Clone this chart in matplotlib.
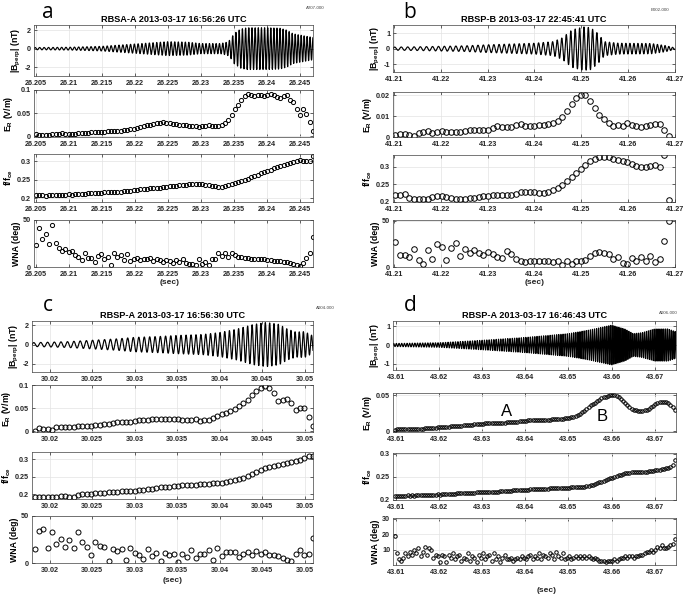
import numpy as np
import matplotlib.pyplot as plt
from matplotlib.ticker import FormatStrFormatter

plt.rcParams['font.family'] = ['Liberation Sans', 'DejaVu Sans']
plt.rcParams['mathtext.fontset'] = 'custom'
plt.rcParams['mathtext.bf'] = 'Liberation Sans:bold'
plt.rcParams['mathtext.rm'] = 'Liberation Sans:bold'
plt.rcParams['mathtext.default'] = 'bf'

# ---------------- panel a ----------------
a_title = 'RBSA-A 2013-03-17 16:56:26 UTC'
a_tag = 'A207-000'
a_xlim = (26.2047, 26.247)
a_xticks = [26.205, 26.21, 26.215, 26.22, 26.225, 26.23, 26.235, 26.24, 26.245]
a_env_t = [26.2047, 26.21, 26.215, 26.218, 26.22, 26.222, 26.225, 26.228, 26.23, 26.233,
           26.234, 26.2345, 26.235, 26.236, 26.237, 26.24, 26.242, 26.243, 26.244, 26.2455, 26.247]
a_env_b = [0.12, 0.15, 0.25, 0.4, 0.5, 0.6, 0.75, 0.7, 0.55, 0.55,
           0.7, 1.0, 1.6, 2.1, 2.25, 2.25, 2.2, 2.0, 1.6, 1.4, 1.2]
a_freq = (1450, 2250)
a_span = (26.205, 26.247)
a_er = [0.004, 0.002, 0.002, 0.003, 0.003, 0.004, 0.004, 0.005, 0.006, 0.005,
        0.004, 0.004, 0.005, 0.006, 0.006, 0.007, 0.007, 0.008, 0.008, 0.008,
        0.009, 0.009, 0.010, 0.010, 0.011, 0.012, 0.012, 0.013, 0.014, 0.015,
        0.016, 0.017, 0.019, 0.021, 0.023, 0.025, 0.027, 0.028, 0.029, 0.030,
        0.029, 0.028, 0.027, 0.026, 0.025, 0.024, 0.023, 0.022, 0.022, 0.021,
        0.020, 0.021, 0.022, 0.023, 0.022, 0.021, 0.022, 0.024, 0.028, 0.035,
        0.045, 0.058, 0.068, 0.078, 0.086, 0.091, 0.089, 0.088, 0.090, 0.089,
        0.088, 0.090, 0.091, 0.089, 0.085, 0.082, 0.088, 0.089, 0.078, 0.074,
        0.058, 0.046, 0.058, 0.048, 0.030, 0.012]
a_ffce = [0.209, 0.210, 0.208, 0.207, 0.208, 0.209, 0.210, 0.209, 0.208, 0.210,
          0.211, 0.210, 0.211, 0.212, 0.213, 0.213, 0.214, 0.214, 0.214, 0.215,
          0.215, 0.216, 0.216, 0.217, 0.217, 0.218, 0.218, 0.219, 0.220, 0.221,
          0.222, 0.223, 0.224, 0.225, 0.226, 0.227, 0.228, 0.229, 0.229, 0.230,
          0.231, 0.232, 0.233, 0.234, 0.235, 0.236, 0.237, 0.238, 0.238, 0.239,
          0.239, 0.238, 0.237, 0.236, 0.234, 0.232, 0.231, 0.231, 0.232, 0.235,
          0.238, 0.241, 0.244, 0.247, 0.250, 0.253, 0.257, 0.260, 0.264, 0.268,
          0.272, 0.275, 0.278, 0.281, 0.284, 0.287, 0.290, 0.293, 0.295, 0.297,
          0.300, 0.303, 0.302, 0.300, 0.301, 0.315]
a_wna = [23, 42, 30, 35, 24, 45, 26, 20, 17, 19,
         16, 17, 13, 11, 7, 15, 10, 10, 5, 12,
         14, 8, 11, 2, 15, 11, 13, 7, 14, 6,
         9, 10, 7, 9, 8, 10, 6, 8, 7, 5,
         7, 6, 4, 7, 5, 9, 4, 3, 3, 2,
         8, 3, 5, 2, 9, 8, 15, 12, 15, 11,
         15, 13, 11, 11, 10, 10, 9, 9, 8, 8,
         8, 7, 7, 6, 6, 6, 5, 5, 4, 3,
         2, 1, 4, 10, 15, 32]

# ---------------- panel b ----------------
b_title = 'RBSP-B 2013-03-17 22:45:41 UTC'
b_tag = 'B002-000'
b_xlim = (41.2097, 41.2701)
b_xticks = [41.21, 41.22, 41.23, 41.24, 41.25, 41.26, 41.27]
b_env_t = [41.2097, 41.215, 41.22, 41.225, 41.23, 41.235, 41.24, 41.244, 41.246, 41.248,
           41.2505, 41.252, 41.2535, 41.255, 41.258, 41.265, 41.268, 41.2701]
b_env_b = [0.1, 0.12, 0.15, 0.18, 0.25, 0.3, 0.35, 0.45, 0.7, 1.2,
           1.4, 1.35, 1.0, 0.45, 0.35, 0.33, 0.2, 0.05]
b_freq = (700, 1250)
b_span = (41.2102, 41.2688)
b_er = [0.0011, 0.0015, 0.0013, 0.0008, 0.0005, 0.0018, 0.0022, 0.0028, 0.0020, 0.0026,
        0.0029, 0.0022, 0.0025, 0.0024, 0.0026, 0.0031, 0.0033, 0.0033, 0.0034, 0.0035,
        0.0036, 0.0045, 0.0053, 0.0050, 0.0046, 0.0048, 0.0058, 0.0063, 0.0053, 0.0052,
        0.0055, 0.0057, 0.0060, 0.0063, 0.0067, 0.0078, 0.0097, 0.0125, 0.0158, 0.0185,
        0.0200, 0.0203, 0.0175, 0.0140, 0.0105, 0.0085, 0.0065, 0.0052, 0.0058, 0.0055,
        0.0066, 0.0058, 0.0052, 0.0050, 0.0053, 0.0056, 0.0062, 0.0064, 0.0035, 0.0006]
b_ffce = [0.219, 0.219, 0.222, 0.211, 0.208, 0.208, 0.208, 0.209, 0.214, 0.218,
          0.216, 0.213, 0.210, 0.209, 0.208, 0.208, 0.210, 0.212, 0.215, 0.217,
          0.218, 0.219, 0.219, 0.219, 0.220, 0.221, 0.224, 0.227, 0.228, 0.228,
          0.227, 0.226, 0.226, 0.228, 0.234, 0.241, 0.249, 0.259, 0.270, 0.282,
          0.294, 0.305, 0.315, 0.322, 0.327, 0.328, 0.326, 0.323, 0.320, 0.316,
          0.312, 0.307, 0.302, 0.298, 0.298, 0.301, 0.305, 0.300, 0.333, 0.205]
b_wna = [27, 13, 13, 11, 20, 8, 3, 18, 9, 25,
         22, 8, 21, 26, 12, 20, 15, 18, 15, 13,
         16, 14, 11, 10, 17, 14, 9, 7, 5, 7,
         6, 6, 7, 6, 5, 7, 2, 7, 3, 7,
         6, 8, 12, 15, 16, 15, 14, 9, 11, 4,
         3, 10, 6, 11, 6, 12, 5, 9, 28, 50]

# ---------------- panel c ----------------
c_title = 'RBSP-A 2013-03-17 16:56:30 UTC'
c_tag = 'A004-000'
c_xlim = (30.0179, 30.051)
c_xticks = [30.02, 30.025, 30.03, 30.035, 30.04, 30.045, 30.05]
c_env_t = [30.0179, 30.02, 30.022, 30.025, 30.028, 30.03, 30.033, 30.035, 30.038, 30.04,
           30.042, 30.044, 30.0455, 30.047, 30.048, 30.049, 30.05, 30.051]
c_env_b = [0.2, 0.25, 0.3, 0.45, 0.6, 0.75, 0.85, 0.95, 1.05, 1.25,
           1.6, 2.1, 2.3, 2.1, 1.6, 1.3, 1.35, 0.9]
c_freq = (1200, 2100)
c_span = (30.0182, 30.051)
c_er = [0.001, 0.007, 0.005, 0.005, 0.002, 0.008, 0.008, 0.009, 0.009, 0.009,
        0.010, 0.010, 0.011, 0.012, 0.013, 0.014, 0.015, 0.016, 0.018, 0.019,
        0.020, 0.020, 0.019, 0.021, 0.023, 0.024, 0.025, 0.026, 0.026, 0.027,
        0.027, 0.027, 0.027, 0.026, 0.025, 0.024, 0.023, 0.026, 0.022, 0.024,
        0.025, 0.028, 0.032, 0.036, 0.040, 0.043, 0.048, 0.054, 0.061, 0.068,
        0.078, 0.088, 0.093, 0.097, 0.093, 0.082, 0.066, 0.067, 0.069, 0.061,
        0.046, 0.051, 0.050, 0.030, 0.012]
c_ffce = [0.193, 0.191, 0.191, 0.192, 0.192, 0.193, 0.195, 0.195, 0.192, 0.191,
          0.196, 0.199, 0.200, 0.199, 0.203, 0.203, 0.204, 0.205, 0.205, 0.207,
          0.208, 0.208, 0.209, 0.210, 0.211, 0.213, 0.214, 0.215, 0.217, 0.219,
          0.220, 0.221, 0.223, 0.224, 0.225, 0.225, 0.226, 0.227, 0.228, 0.229,
          0.230, 0.231, 0.232, 0.233, 0.235, 0.237, 0.240, 0.243, 0.247, 0.252,
          0.258, 0.263, 0.268, 0.273, 0.277, 0.281, 0.284, 0.286, 0.289, 0.292,
          0.295, 0.297, 0.302, 0.308, 0.309]
c_wna = [15, 34, 36, 16, 33, 20, 26, 17, 25, 16,
         33, 22, 17, 9, 22, 18, 17, 2, 15, 13,
         15, 3, 16, 11, 9, 4, 15, 7, 11, 2,
         11, 8, 10, 1, 10, 6, 14, 5, 10, 10,
         14, 3, 16, 7, 12, 12, 12, 6, 10, 12,
         8, 13, 10, 12, 9, 8, 7, 5, 3, 2,
         10, 14, 8, 10, 27]

# ---------------- panel d ----------------
d_title = 'RBSP-A 2013-03-17 16:46:43 UTC'
d_tag = 'A006-000'
d_xlim = (43.6094, 43.6749)
d_xticks = [43.61, 43.62, 43.63, 43.64, 43.65, 43.66, 43.67]
d_env_t = [43.6094, 43.62, 43.63, 43.64, 43.645, 43.65, 43.655, 43.66, 43.663, 43.665,
           43.667, 43.67, 43.673, 43.6749]
d_env_b = [0.08, 0.12, 0.25, 0.4, 0.5, 0.6, 0.8, 1.05, 0.85, 0.6,
           0.65, 0.85, 0.85, 0.7]
d_freq = (1600, 2300)
d_span = (43.6098, 43.6746)
d_er = [0.0020, 0.0025, 0.0030, 0.0030, 0.0028, 0.0030, 0.0032, 0.0033, 0.0030, 0.0034,
        0.0035, 0.0036, 0.0035, 0.0038, 0.0040, 0.0041, 0.0043, 0.0045, 0.0048, 0.0050,
        0.0053, 0.0055, 0.0057, 0.0060, 0.0062, 0.0065, 0.0067, 0.0070, 0.0072, 0.0075,
        0.0078, 0.0080, 0.0083, 0.0086, 0.0088, 0.0090, 0.0093, 0.0096, 0.0099, 0.0102,
        0.0105, 0.0107, 0.0108, 0.0110, 0.0111, 0.0112, 0.0114, 0.0115, 0.0117, 0.0118,
        0.0120, 0.0121, 0.0123, 0.0124, 0.0126, 0.0128, 0.0130, 0.0133, 0.0137, 0.0141,
        0.0145, 0.0148, 0.0150, 0.0151, 0.0152, 0.0154, 0.0155, 0.0156, 0.0157, 0.0158,
        0.0160, 0.0161, 0.0162, 0.0164, 0.0166, 0.0168, 0.0170, 0.0172, 0.0176, 0.0180,
        0.0187, 0.0190, 0.0196, 0.0203, 0.0215, 0.0230, 0.0245, 0.0262, 0.0285, 0.0310,
        0.0335, 0.0358, 0.0378, 0.0398, 0.0418, 0.0438, 0.0455, 0.0468, 0.0480, 0.0490,
        0.0496, 0.0500, 0.0498, 0.0492, 0.0468, 0.0448, 0.0420, 0.0390, 0.0360, 0.0335,
        0.0315, 0.0298, 0.0288, 0.0280, 0.0278, 0.0282, 0.0288, 0.0298, 0.0312, 0.0330,
        0.0352, 0.0372, 0.0390, 0.0402, 0.0408, 0.0410, 0.0406, 0.0390, 0.0366, 0.0335,
        0.0290]
d_ffce = [0.2090, 0.2090, 0.2085, 0.2090, 0.2095, 0.2090, 0.2100, 0.2095, 0.2100, 0.2095,
          0.2100, 0.2105, 0.2100, 0.2105, 0.2110, 0.2105, 0.2110, 0.2112, 0.2115, 0.2115,
          0.2120, 0.2118, 0.2122, 0.2125, 0.2128, 0.2130, 0.2133, 0.2136, 0.2140, 0.2143,
          0.2146, 0.2148, 0.2150, 0.2152, 0.2155, 0.2158, 0.2160, 0.2162, 0.2165, 0.2168,
          0.2170, 0.2172, 0.2174, 0.2176, 0.2178, 0.2180, 0.2181, 0.2182, 0.2184, 0.2185,
          0.2188, 0.2192, 0.2196, 0.2200, 0.2204, 0.2207, 0.2210, 0.2213, 0.2216, 0.2218,
          0.2220, 0.2222, 0.2225, 0.2228, 0.2230, 0.2232, 0.2235, 0.2237, 0.2240, 0.2242,
          0.2245, 0.2247, 0.2250, 0.2252, 0.2255, 0.2257, 0.2260, 0.2262, 0.2264, 0.2266,
          0.2268, 0.2270, 0.2272, 0.2274, 0.2276, 0.2278, 0.2280, 0.2283, 0.2288, 0.2295,
          0.2303, 0.2315, 0.2330, 0.2347, 0.2365, 0.2383, 0.2400, 0.2418, 0.2435, 0.2452,
          0.2470, 0.2488, 0.2505, 0.2522, 0.2538, 0.2550, 0.2565, 0.2578, 0.2588, 0.2596,
          0.2602, 0.2606, 0.2608, 0.2610, 0.2611, 0.2612, 0.2614, 0.2617, 0.2622, 0.2628,
          0.2636, 0.2644, 0.2652, 0.2660, 0.2668, 0.2678, 0.2690, 0.2705, 0.2725, 0.2765,
          0.2860]
d_wna = [19, 8, 4, 3, 5, 8, 6, 9, 7, 10,
         8, 11, 6, 9, 12, 7, 11, 10, 5, 7,
         6, 2, 7, 6, 2, 7, 5, 8, 4, 6,
         7, 3, 5, 4, 8, 3, 6, 5, 2, 7,
         5, 8, 4, 6, 7, 3, 8, 4, 6, 2,
         5, 7, 4, 4, 5, 3, 4, 5, 4, 6,
         5, 4, 6, 7, 4, 6, 5, 8, 4, 7,
         6, 5, 8, 7, 4, 9, 6, 5, 8, 4,
         5, 6, 4, 5, 6, 5, 6, 5, 6, 5,
         6, 5, 4, 5, 4, 3, 3, 3, 2, 3,
         3, 3, 4, 3, 4, 5, 5, 6, 5, 6,
         6, 5, 6, 6, 7, 7, 8, 9, 9, 10,
         9, 10, 12, 11, 13, 11, 11, 12, 13, 14,
         17]

ylabels = [r'|B$_{perp}$| (nT)', r'E$_R$ (V/m)', r'f/f$_{ce}$', 'WNA (deg)']

W, H = 685, 594
fig = plt.figure(figsize=(W / 100, H / 100), dpi=100)


def rect(left, right, top, bottom):
    return [left / W, 1 - bottom / H, (right - left) / W, (bottom - top) / H]


def style(ax, xlim, xticks):
    ax.set_xlim(xlim)
    ax.set_xticks(xticks)
    ax.xaxis.set_major_formatter(FormatStrFormatter('%g'))
    ax.tick_params(direction='in', length=2.5, width=0.5, top=True, right=True,
                   labelsize=5.2, pad=2, colors='#262626')
    ax.tick_params(axis='x', pad=3.2)
    for lab in ax.get_xticklabels() + ax.get_yticklabels():
        lab.set_fontweight('bold')
    ax.grid(True, color='#e3e3e3', linewidth=0.5)
    ax.set_axisbelow(True)
    for s in ax.spines.values():
        s.set_color('#404040')
        s.set_linewidth(0.5)


def panel(left, right, rows, xlim, xticks, title, tag, env_t, env_b, freq, span,
          er, ffce, wna, ylims, yticks, msize, letter, lpos, tagpos, secpos):
    axes = [fig.add_axes(rect(left, right, t, b)) for t, b in rows]
    # waveform: envelope, carrier sweeping between two frequencies
    t = np.linspace(xlim[0], xlim[1], 6000)
    T = xlim[1] - xlim[0]
    ph = 2 * np.pi * (freq[0] * (t - xlim[0]) + (freq[1] - freq[0]) * (t - xlim[0]) ** 2 / (2 * T))
    axes[0].plot(t, np.interp(t, env_t, env_b) * np.sin(ph), color='black', lw=0.85)
    for ax, vals in zip(axes[1:], [er, ffce, wna]):
        x = np.linspace(span[0], span[1], len(vals))
        ax.plot(x, vals, 'o', mfc='none', mec='black', ms=msize, mew=0.7, ls='none')
    for ax, yl, yt, lab in zip(axes, ylims, yticks, ylabels):
        style(ax, xlim, xticks)
        ax.set_ylim(yl)
        ax.set_yticks(yt)
        ax.yaxis.set_major_formatter(FormatStrFormatter('%g'))
        ax.set_ylabel(lab, fontsize=6.3, fontweight='bold', labelpad=1.5)
    axes[0].set_title(title, fontsize=6.6, fontweight='bold', pad=2)
    fig.text(lpos[0] / W, 1 - lpos[1] / H, letter, fontsize=15, family='Open Sans',
             ha='center', va='center')
    fig.text(tagpos[0] / W, 1 - tagpos[1] / H, tag, fontsize=3.2, color='#444444',
             ha='center', va='center')
    fig.text(secpos[0] / W, 1 - secpos[1] / H, '(sec)', fontsize=6, fontweight='bold',
             ha='center', va='center', color='#262626')
    return axes


panel(34, 313, [(25, 76), (90, 137), (154, 202), (220, 267)], a_xlim, a_xticks,
      a_title, a_tag, a_env_t, a_env_b, a_freq, a_span, a_er, a_ffce, a_wna,
      [(-2.95, 2.55), (-0.002, 0.1), (0.19, 0.32), (0, 50)],
      [[-2, 0, 2], [0, 0.05, 0.1], [0.2, 0.25, 0.3], [0, 50]],
      3.0, 'a', (48, 12), (315, 8), (170, 283))

panel(393, 675, [(25, 72), (92, 137), (155, 202), (220, 267)], b_xlim, b_xticks,
      b_title, b_tag, b_env_t, b_env_b, b_freq, b_span, b_er, b_ffce, b_wna,
      [(-1.5, 1.52), (0, 0.0216), (0.2, 0.333), (0, 51)],
      [[-1, 0, 1], [0, 0.01, 0.02], [0.2, 0.25, 0.3], [0, 50]],
      4.0, 'b', (410, 12), (660, 10), (535, 283))

c_axes = panel(32, 313, [(321, 372), (385, 432), (452, 499), (516, 563)], c_xlim, c_xticks,
               c_title, c_tag, c_env_t, c_env_b, c_freq, c_span, c_er, c_ffce, c_wna,
               [(-2.85, 2.45), (-0.002, 0.1), (0.186, 0.32), (0, 50)],
               [[-2, 0, 2], [0, 0.05, 0.1], [0.2, 0.25, 0.3], [0, 50]],
               3.6, 'c', (48, 305), (325, 308), (173, 580))

d_axes = panel(393, 676, [(321, 370), (393, 432), (453, 500), (518, 565)], d_xlim, d_xticks,
               d_title, d_tag, d_env_t, d_env_b, d_freq, d_span, d_er, d_ffce, d_wna,
               [(-1.32, 1.27), (-0.001, 0.053), (0.2, 0.302), (0.3, 30.6)],
               [[-1, 0, 1], [0, 0.05], [0.2, 0.25, 0.3], [10, 20, 30]],
               2.5, 'd', (410, 305), (668, 313), (547, 590))

# point labels A and B on the E_R trace of panel d
d_axes[1].text(43.6356, 0.0165, 'A', fontsize=12, ha='center', va='bottom')
d_axes[1].text(43.6578, 0.0095, 'B', fontsize=12, ha='center', va='bottom')

fig.savefig('out.png', dpi=100)
